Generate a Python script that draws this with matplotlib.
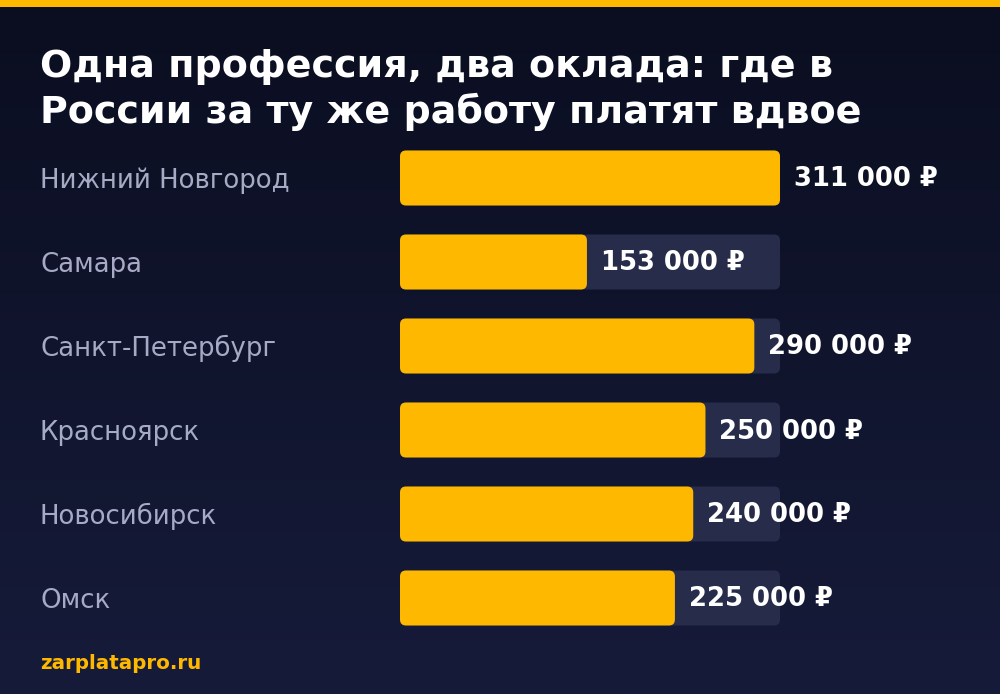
import numpy as np
import matplotlib
matplotlib.use("Agg")
import matplotlib.pyplot as plt
from matplotlib.patches import FancyBboxPatch, Rectangle
import matplotlib.transforms as mtransforms

# данные
cities = ["Нижний Новгород", "Самара", "Санкт-Петербург", "Красноярск", "Новосибирск", "Омск"]
salaries = [311000, 153000, 290000, 250000, 240000, 225000]
value_labels = ["311 000 ₽", "153 000 ₽", "290 000 ₽", "250 000 ₽", "240 000 ₽", "225 000 ₽"]
title_lines = ["Одна профессия, два оклада: где в", "России за ту же работу платят вдвое"]
source = "zarplatapro.ru"

W, H = 1000, 694
YELLOW = "#FFB800"
TRACK = "#262c4a"
LABEL = "#a6aac4"

plt.rcParams["font.family"] = ["DejaVu Sans"]
fig = plt.figure(figsize=(W / 100, H / 100), dpi=100)

# фон с градиентом
bg = fig.add_axes([0, 0, 1, 1])
grad = np.linspace(0, 1, 256).reshape(-1, 1)
top = np.array(matplotlib.colors.to_rgb("#0b0e20"))
bot = np.array(matplotlib.colors.to_rgb("#161b3a"))
img = top + (bot - top) * grad[..., None]
bg.imshow(img, aspect="auto", extent=[0, 1, 0, 1], origin="upper")
bg.add_patch(Rectangle((0, 1 - 7 / H), 1, 7 / H, color=YELLOW, lw=0))
bg.set_xlim(0, 1)
bg.set_ylim(0, 1)
bg.axis("off")

# основная ось: пиксельная раскладка через масштаб данных
ax = fig.add_axes([0, 0, 1, 1])
ax.patch.set_alpha(0)
vmax = max(salaries)
bar_left, bar_right = 400, 780
xpp = vmax / (bar_right - bar_left)  # единиц x на пиксель
ax.set_xlim(-bar_left * xpp, (W - bar_left) * xpp)
row0, step = 178, 84
ypp = 1 / step
ax.set_ylim((H - row0) * ypp, -row0 * ypp)
ax.axis("off")

bh = 55 * ypp
r = 6 * xpp
asp = ypp / xpp
lab_tr = mtransforms.blended_transform_factory(ax.transAxes, ax.transData)
for i, (city, val, lab) in enumerate(zip(cities, salaries, value_labels)):
    ax.add_patch(FancyBboxPatch((0, i - bh / 2), vmax, bh,
                                boxstyle=f"round,pad=0,rounding_size={r}",
                                mutation_aspect=asp, fc=TRACK, ec="none"))
    ax.add_patch(FancyBboxPatch((0, i - bh / 2), val, bh,
                                boxstyle=f"round,pad=0,rounding_size={r}",
                                mutation_aspect=asp, fc=YELLOW, ec="none"))
    ax.text(0.04, i + 9.5 * ypp, city, transform=lab_tr,
            ha="left", va="baseline", fontsize=18.7, color=LABEL)
    ax.text(val + 14 * xpp, i + 8.5 * ypp, lab, ha="left", va="baseline", fontsize=18.6,
            fontweight="bold", color="white")

# заголовок
fig.text(40 / W, 1 - 77 / H, title_lines[0], fontsize=27.4, fontweight="bold",
         color="white", va="baseline", ha="left")
fig.text(40 / W, 1 - 123 / H, title_lines[1], fontsize=27.4, fontweight="bold",
         color="white", va="baseline", ha="left")

fig.text(40 / W, 1 - 669 / H, source, fontsize=14.3, fontweight="bold",
         color=YELLOW, va="baseline", ha="left")

fig.savefig("out.png", dpi=100)
